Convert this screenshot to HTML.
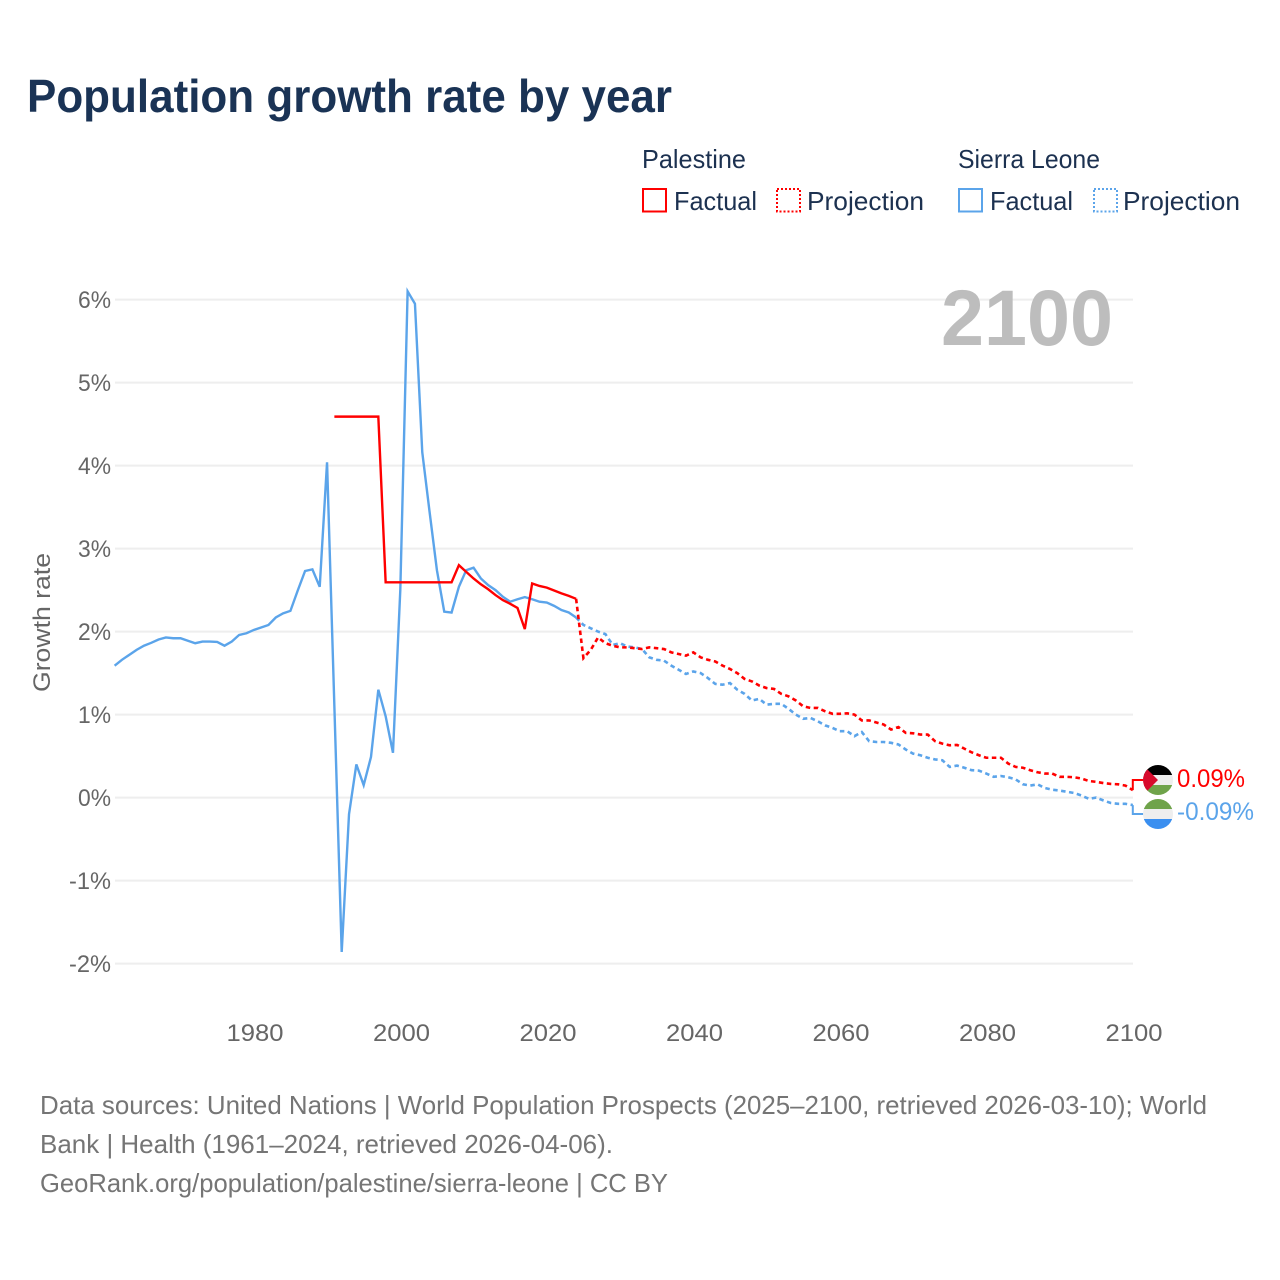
<!DOCTYPE html>
<html lang="en">
<head>
<meta charset="utf-8">
<title>Population growth rate by year</title>
<style>
html,body{margin:0;padding:0;background:#fff;}
svg{display:block;font-family:"Liberation Sans",sans-serif;}
</style>
</head>
<body>
<svg id="chart" xmlns="http://www.w3.org/2000/svg" width="1280" height="1280" viewBox="0 0 1280 1280">
<defs>
<clipPath id="clip-flag-a"><circle cx="1158" cy="780" r="15"/></clipPath>
<clipPath id="clip-flag-b"><circle cx="1158" cy="814" r="15"/></clipPath>
</defs>
<rect width="1280" height="1280" fill="#fff"/>
<text x="27" y="112" font-size="46" font-weight="700" fill="#1a3355" textLength="645" lengthAdjust="spacingAndGlyphs">Population growth rate by year</text>

<g font-size="26" fill="#1c3150">
  <text x="642" y="168" textLength="104" lengthAdjust="spacingAndGlyphs">Palestine</text>
  <rect x="643" y="189" width="23" height="22.5" fill="none" stroke="#f00" stroke-width="2"/>
  <text x="674" y="210" textLength="83" lengthAdjust="spacingAndGlyphs">Factual</text>
  <rect x="777" y="189" width="23" height="22.5" fill="none" stroke="#f00" stroke-width="2" stroke-dasharray="2 2"/>
  <text x="807" y="210" textLength="117" lengthAdjust="spacingAndGlyphs">Projection</text>
  <text x="958" y="168" textLength="142" lengthAdjust="spacingAndGlyphs">Sierra Leone</text>
  <rect x="959" y="189" width="23" height="22.5" fill="none" stroke="#5ba4ea" stroke-width="2"/>
  <text x="990" y="210" textLength="83" lengthAdjust="spacingAndGlyphs">Factual</text>
  <rect x="1094" y="189" width="23" height="22.5" fill="none" stroke="#5ba4ea" stroke-width="2" stroke-dasharray="2 2"/>
  <text x="1123" y="210" textLength="117" lengthAdjust="spacingAndGlyphs">Projection</text>
</g>

<g id="grid"></g>
<g id="yticks" font-size="24" fill="#666"></g>
<g id="xticks" font-size="24" fill="#666"></g>
<text transform="translate(50,622.5) rotate(-90)" text-anchor="middle" font-size="24" fill="#666" textLength="139" lengthAdjust="spacingAndGlyphs">Growth rate</text>
<text x="941" y="345" font-size="79" font-weight="700" fill="#bdbdbd" textLength="172" lengthAdjust="spacingAndGlyphs">2100</text>

<g id="series"></g>

<g clip-path="url(#clip-flag-a)">
  <rect x="1143" y="765" width="30" height="10" fill="#000"/>
  <rect x="1143" y="775" width="30" height="10" fill="#eeeeee"/>
  <rect x="1143" y="785" width="30" height="10" fill="#6fa34a"/>
  <polygon points="1143,765 1158,780 1143,795" fill="#d70a2c"/>
</g>
<g clip-path="url(#clip-flag-b)">
  <rect x="1143" y="799" width="30" height="10" fill="#6fa34a"/>
  <rect x="1143" y="809" width="30" height="10" fill="#eeeeee"/>
  <rect x="1143" y="819" width="30" height="10" fill="#3a8ff0"/>
</g>
<g id="endlabels" font-size="25"></g>

<g font-size="26" fill="#757575">
  <text x="40" y="1114" textLength="1167" lengthAdjust="spacingAndGlyphs">Data sources: United Nations | World Population Prospects (2025–2100, retrieved 2026-03-10); World</text>
  <text x="40" y="1153" textLength="573" lengthAdjust="spacingAndGlyphs">Bank | Health (1961–2024, retrieved 2026-04-06).</text>
  <text x="40" y="1192" textLength="628" lengthAdjust="spacingAndGlyphs">GeoRank.org/population/palestine/sierra-leone | CC BY</text>
</g>
</svg>
<script>
const xTickLabels = [1980, 2000, 2020, 2040, 2060, 2080, 2100];
const yTickValues = [6, 5, 4, 3, 2, 1, 0, -1, -2];

const sierraFactualStart = 1961;
const sierraFactual = [1.59,1.66,1.72,1.78,1.83,1.865,1.905,1.93,1.92,1.92,1.89,1.86,1.88,1.88,1.875,1.83,1.88,1.96,1.98,2.02,2.05,2.08,2.17,2.22,2.25,2.495,2.73,2.75,2.54,4.04,1.1,-1.86,-0.2,0.4,0.15,0.49,1.3,0.98,0.54,2.5,6.1,5.95,4.16,3.44,2.74,2.24,2.23,2.54,2.74,2.77,2.64,2.56,2.5,2.42,2.36,2.39,2.415,2.39,2.36,2.35,2.31,2.26,2.23,2.17];

const sierraProjectionStart = 2024;
const sierraProjection = [2.17,2.08,2.04,2.0,1.97,1.84,1.86,1.82,1.81,1.79,1.69,1.66,1.65,1.59,1.54,1.49,1.52,1.5,1.44,1.37,1.36,1.38,1.3,1.25,1.17,1.19,1.12,1.13,1.13,1.07,1.0,0.95,0.96,0.92,0.87,0.84,0.8,0.8,0.74,0.79,0.68,0.67,0.67,0.66,0.64,0.58,0.53,0.51,0.48,0.46,0.45,0.37,0.385,0.36,0.33,0.325,0.29,0.25,0.26,0.245,0.22,0.16,0.145,0.16,0.115,0.095,0.085,0.07,0.055,0.025,-0.015,0,-0.035,-0.065,-0.075,-0.075,-0.09];

const palestineFactualStart = 1991;
const palestineFactual = [4.59,4.59,4.59,4.59,4.59,4.59,4.59,2.594,2.594,2.594,2.594,2.594,2.594,2.594,2.594,2.594,2.594,2.8,2.72,2.64,2.57,2.51,2.44,2.38,2.335,2.285,2.03,2.58,2.55,2.53,2.495,2.46,2.43,2.395];

const palestineProjectionStart = 2024;
const palestineProjection = [2.395,1.68,1.78,1.93,1.86,1.83,1.81,1.81,1.8,1.79,1.81,1.8,1.79,1.75,1.73,1.71,1.75,1.69,1.66,1.64,1.59,1.55,1.5,1.43,1.4,1.35,1.32,1.31,1.25,1.22,1.17,1.1,1.08,1.08,1.04,1.01,1.01,1.015,1.0,0.93,0.93,0.905,0.88,0.82,0.85,0.78,0.775,0.76,0.76,0.68,0.65,0.63,0.635,0.59,0.545,0.51,0.48,0.48,0.48,0.41,0.37,0.36,0.33,0.305,0.29,0.29,0.25,0.25,0.245,0.23,0.2,0.19,0.175,0.165,0.16,0.145,0.09];

const NS = 'http://www.w3.org/2000/svg';
const RED = '#ff0000';
const BLUE = '#5ba4ea';
function xScale(year) { return 1132.8 - (2100 - year) * 7.325; }
function yScale(v) { return 797.6 - v * 83.0; }
function pathFrom(start, values) {
  return values.map(function (v, i) {
    return (i ? 'L' : 'M') + xScale(start + i).toFixed(2) + ' ' + yScale(v).toFixed(2);
  }).join(' ');
}
function make(tag, attrs, parent) {
  const el = document.createElementNS(NS, tag);
  Object.keys(attrs).forEach(function (k) { el.setAttribute(k, attrs[k]); });
  parent.appendChild(el);
  return el;
}

const gridG = document.getElementById('grid');
const yG = document.getElementById('yticks');
const xG = document.getElementById('xticks');
const seriesG = document.getElementById('series');
const endG = document.getElementById('endlabels');

yTickValues.forEach(function (v) {
  const line = make('line', {x1: 115, x2: 1133, y1: yScale(v), y2: yScale(v), stroke: '#eeeeee', 'stroke-width': 2}, gridG);
  
  
  const label = v + '%';
  const t = make('text', {x: 111, y: yScale(v) + 8.5, 'text-anchor': 'end', textLength: label.length === 2 ? 33 : 42, lengthAdjust: 'spacingAndGlyphs'}, yG);
  
  
  t.textContent = label;
});

xTickLabels.forEach(function (yr) {
  const t = make('text', {x: xScale(yr) + 1.2, y: 1041, 'text-anchor': 'middle', textLength: 57, lengthAdjust: 'spacingAndGlyphs'}, xG);
  
  
  t.textContent = yr;
});

const sierraFactualLine = make('path', {d: pathFrom(sierraFactualStart, sierraFactual), fill: 'none', stroke: BLUE, 'stroke-width': 2.4, 'stroke-linejoin': 'miter'}, seriesG);



const sierraProjectionLine = make('path', {d: pathFrom(sierraProjectionStart, sierraProjection), fill: 'none', stroke: BLUE, 'stroke-width': 2.6, 'stroke-dasharray': '4.5 3.5'}, seriesG);



const palestineFactualLine = make('path', {d: pathFrom(palestineFactualStart, palestineFactual), fill: 'none', stroke: RED, 'stroke-width': 2.4}, seriesG);



const palestineProjectionLine = make('path', {d: pathFrom(palestineProjectionStart, palestineProjection), fill: 'none', stroke: RED, 'stroke-width': 2.6, 'stroke-dasharray': '4.5 3.5'}, seriesG);



const lastRed = palestineProjection[palestineProjection.length - 1];
const lastBlue = sierraProjection[sierraProjection.length - 1];
const redEndY = yScale(lastRed);
const blueEndY = yScale(lastBlue);
const xEnd = xScale(2100);

const redConnector = make('path', {d: 'M' + xEnd + ' ' + redEndY + ' V780 H1144', fill: 'none', stroke: RED, 'stroke-width': 2}, seriesG);



const blueConnector = make('path', {d: 'M' + xEnd + ' ' + blueEndY + ' V814 H1144', fill: 'none', stroke: BLUE, 'stroke-width': 2}, seriesG);



const redLabel = make('text', {x: 1177, y: 787, fill: RED, textLength: 68, lengthAdjust: 'spacingAndGlyphs'}, endG);


redLabel.textContent = lastRed.toFixed(2) + '%';

const blueLabel = make('text', {x: 1177, y: 820, fill: BLUE, textLength: 77, lengthAdjust: 'spacingAndGlyphs'}, endG);


blueLabel.textContent = lastBlue.toFixed(2) + '%';
</script>
</body>
</html>
